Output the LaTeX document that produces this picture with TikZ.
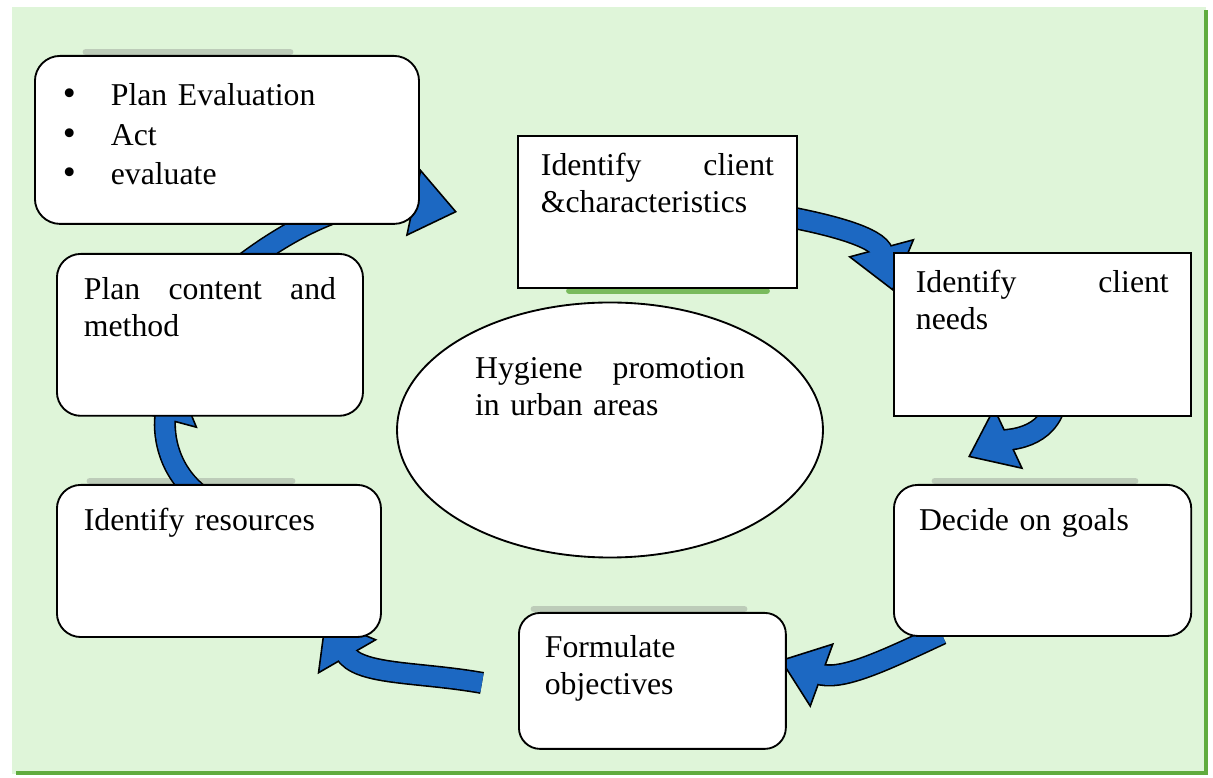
\documentclass[tikz,border=0pt]{standalone}
\usepackage{fontspec}
\setmainfont{Liberation Serif}
\usetikzlibrary{arrows.meta,shapes.geometric,calc}

\definecolor{panelgreen}{RGB}{223,245,217}
\definecolor{edgegreen}{RGB}{96,172,62}
\definecolor{arrowblue}{RGB}{28,104,194}

\pgfdeclarelayer{panel}
\pgfdeclarelayer{arrows}
\pgfsetlayers{panel,arrows,main}

\tikzset{
  stepbox/.style={draw=black, fill=white, line width=0.7pt, anchor=north west, inner ysep=0pt},
  roundbox/.style={stepbox, rounded corners=9pt},
  arrowrim/.style={draw=black, line width=8.4pt, shorten >=15pt},
  arrowhead/.style={draw=arrowblue, line width=0.2pt, shorten >=0pt,
    -{Triangle[length=17pt,width=26pt,color=black,fill=arrowblue,line width=0.6pt]}},
  cyclearrow/.style={preaction={arrowrim}, preaction={arrowhead},
    draw=arrowblue, line width=7.2pt, shorten >=15pt},
  topshade/.style={line width=2.6pt, line cap=round, black!50, opacity=0.35}
}

\begin{document}
\begin{tikzpicture}[x=0.378pt, y=0.378pt, font=\fontsize{12}{14}\selectfont]
    \useasboundingbox (0,0) rectangle (1213,778);

    % Background panel
    \begin{pgfonlayer}{panel}
        \fill[panelgreen] (12,4) rectangle (1206,771);
        \draw[edgegreen, line width=1.5pt] (16,5) -- (1206,5) -- (1206,768);
    \end{pgfonlayer}

    % Steps of the cycle
    \node[roundbox, rounded corners=9.5pt, text width=124pt, inner xsep=10.6pt, text height=18.9pt, text depth=44.6pt] (evalbox) at (34,723)
        {\makebox[18.1pt][l]{\fontsize{14}{14}\selectfont\textbullet}Plan Evaluation\\[0.8pt]
         \makebox[18.1pt][l]{\fontsize{14}{14}\selectfont\textbullet}Act\\[0.8pt]
         \makebox[18.1pt][l]{\fontsize{14}{14}\selectfont\textbullet}evaluate};
    \node[stepbox, text width=88.1pt, inner xsep=8.7pt, text height=15.1pt, text depth=42.3pt] (clientbox) at (517,643)
        {Identify\hfill client\\\&characteristics};
    \node[stepbox, text width=95.6pt, inner xsep=8.3pt, text height=15.1pt, text depth=46.5pt] (needsbox) at (893,526)
        {Identify\hfill client\\needs};
    \node[roundbox, text width=93.4pt, inner xsep=9.5pt, text height=17.4pt, text depth=39.7pt] (goalsbox) at (893,294)
        {Decide on goals};
    \node[roundbox, rounded corners=8pt, text width=81.3pt, inner xsep=9.8pt, text height=17pt, text depth=34.4pt] (objbox) at (518,166)
        {Formulate\\objectives};
    \node[roundbox, text width=102.1pt, inner xsep=10.2pt, text height=17.4pt, text depth=40.1pt] (resbox) at (56,294)
        {Identify resources};
    \node[roundbox, text width=95.3pt, inner xsep=10.2pt, text height=17.4pt, text depth=43.8pt] (contentbox) at (56,525)
        {Plan\hfill content\hfill and\\method};

    % Centre ellipse
    \node[ellipse, draw=black, fill=white, line width=0.7pt, minimum width=161pt, minimum height=96.4pt, inner sep=0pt,
          text width=102pt, text height=10pt, text depth=49.3pt] (hub) at (610,348)
        {Hygiene\hfill promotion\\in urban areas};

    % Arrow heads
    \coordinate (toclient) at (457,566);
    \coordinate (toneeds) at (893,487);
    \coordinate (togoals) at (968,321);
    \coordinate (toobj) at (780,118);
    \coordinate (tores) at (325,160);
    \coordinate (tocontent) at (176,402);

    \begin{pgfonlayer}{arrows}
        % Shadows peeking out behind the boxes
        \draw[topshade] ($(evalbox.north west)+(52,3)$) -- ($(evalbox.north west)+(256,3)$);
        \draw[topshade] ($(resbox.north west)+(34,3)$) -- ($(resbox.north west)+(236,3)$);
        \draw[topshade] ($(goalsbox.north west)+(42,3)$) -- ($(goalsbox.north west)+(242,3)$);
        \draw[topshade] ($(objbox.north west)+(16,3)$) -- ($(objbox.north west)+(226,3)$);
        \draw[line width=2.2pt, line cap=round, edgegreen, opacity=0.8] ($(clientbox.south west)+(52,-2)$) -- ($(clientbox.south west)+(250,-2)$);

        % Cycle arrows
        \draw[cyclearrow] ($(contentbox.north)+(26,-17)$) to[out=38,in=168] (toclient);
        \draw[cyclearrow] ($(clientbox.east)+(-26,-2)$) to[out=-10,in=105] (toneeds);
        \draw[cyclearrow] ($(needsbox.south)+(14,17)$) to[out=-100,in=25] (togoals);
        \draw[cyclearrow] ($(goalsbox.south)+(-101,3)$) to[out=-155,in=-20] (toobj);
        \draw[cyclearrow] ($(objbox.west)+(-36,-2)$) to[out=170,in=-60] (tores);
        \draw[cyclearrow] ($(resbox.north)+(-22,-9)$) to[out=140,in=-105] (tocontent);
    \end{pgfonlayer}
\end{tikzpicture}
\end{document}
